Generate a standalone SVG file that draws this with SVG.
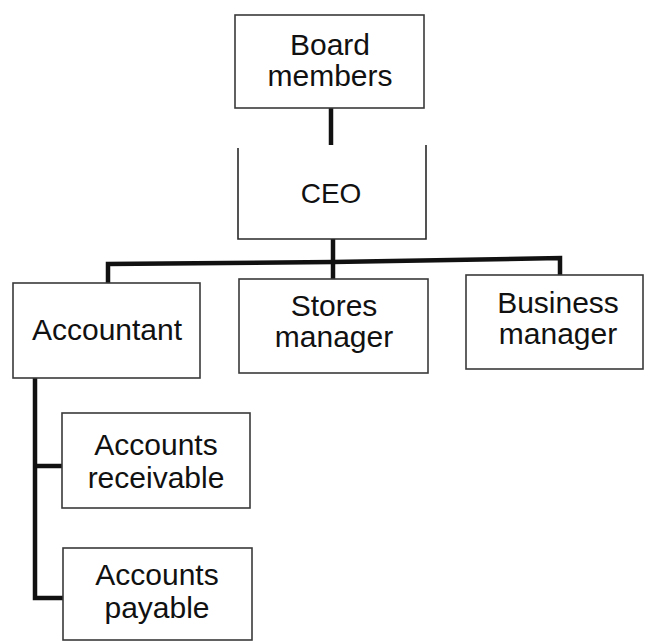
<svg xmlns="http://www.w3.org/2000/svg" width="645" height="641" viewBox="0 0 645 641">
<style>
.box{fill:#fff;stroke:#3a3a3a;stroke-width:1.6}
.open{fill:none;stroke:#2a2a2a;stroke-width:1.6}
.con{fill:none;stroke:#111;stroke-width:4.5;stroke-linejoin:miter}
text{font-family:"Liberation Sans",Arial,sans-serif;font-size:30px;fill:#111;text-anchor:middle}
</style>
<rect width="645" height="641" fill="#fff"/>
<g id="connectors">
<line class="con" x1="331" y1="108" x2="331" y2="145"/>
<line class="con" x1="333" y1="239" x2="333" y2="279"/>
<polyline class="con" points="108,283 108,264 333,262 560,258 560,275"/>
<polyline class="con" points="35,378 35,598 63,598"/>
<line class="con" x1="35" y1="466" x2="62" y2="466"/>
</g>
<g id="board">
<rect class="box" x="235" y="15" width="189" height="93"/>
<text x="330" y="55">Board</text>
<text x="330" y="86">members</text>
</g>
<g id="ceo">
<polyline class="open" points="238,148 238,239 426,239 426,145"/>
<text x="331" y="203" style="font-size:28px">CEO</text>
</g>
<g id="accountant">
<rect class="box" x="13" y="283" width="187" height="95"/>
<text x="107" y="340">Accountant</text>
</g>
<g id="stores">
<rect class="box" x="239" y="279" width="189" height="94"/>
<text x="334" y="316">Stores</text>
<text x="334" y="347">manager</text>
</g>
<g id="business">
<rect class="box" x="466" y="275" width="177" height="94"/>
<text x="558" y="313">Business</text>
<text x="558" y="344">manager</text>
</g>
<g id="receivable">
<rect class="box" x="62" y="413" width="188" height="95"/>
<text x="156" y="455">Accounts</text>
<text x="156" y="488">receivable</text>
</g>
<g id="payable">
<rect class="box" x="63" y="548" width="189" height="92"/>
<text x="157" y="585">Accounts</text>
<text x="157" y="618">payable</text>
</g>
</svg>
